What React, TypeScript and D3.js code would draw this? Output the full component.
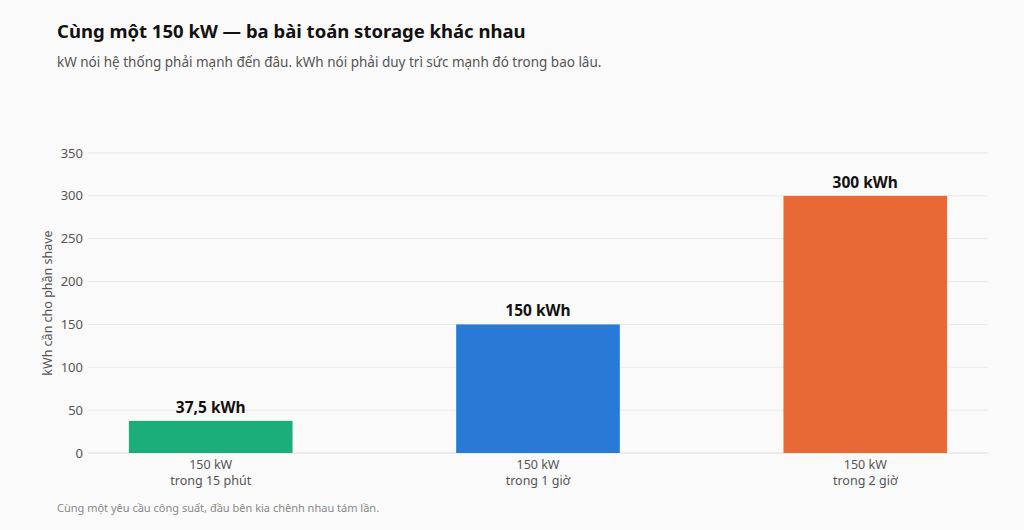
import React, { useRef, useEffect } from 'react';
import * as d3 from 'd3';

const categories = ['150 kW\ntrong 15 phút', '150 kW\ntrong 1 giờ', '150 kW\ntrong 2 giờ'];
const values = [37.5, 150, 300];
const valueLabels = ['37,5 kWh', '150 kWh', '300 kWh'];
const colors = ['#1bae7b', '#2979d6', '#e96936'];
const yTicks = [0, 50, 100, 150, 200, 250, 300, 350];

const FONT = '"Segoe UI", "Noto Sans", "Open Sans", sans-serif';

const App: React.FC = () => {
  const svgRef = useRef<SVGSVGElement>(null);

  useEffect(() => {
    if (!svgRef.current) return;
    const width = 1024,
      height = 530;
    const margin = { top: 153, right: 36, bottom: 77, left: 88 };

    const svg = d3.select(svgRef.current);
    svg.selectAll('*').remove();
    svg.attr('width', width).attr('height', height).style('font-family', FONT);

    svg.append('rect').attr('width', width).attr('height', height).attr('fill', '#fafafa');

    // titles
    svg
      .append('text')
      .attr('x', 57)
      .attr('y', 38)
      .attr('font-size', 18.5)
      .attr('font-weight', 700)
      .attr('fill', '#111')
      .text('Cùng một 150 kW — ba bài toán storage khác nhau');
    svg
      .append('text')
      .attr('x', 57)
      .attr('y', 67)
      .attr('font-size', 13.5)
      .attr('fill', '#555')
      .text('kW nói hệ thống phải mạnh đến đâu. kWh nói phải duy trì sức mạnh đó trong bao lâu.');

    const x = d3
      .scaleBand()
      .domain(categories)
      .range([margin.left, width - margin.right])
      .paddingInner(0.5)
      .paddingOuter(0.125);
    const y = d3
      .scaleLinear()
      .domain([0, 350])
      .range([height - margin.bottom, margin.top]);

    // grid
    svg
      .append('g')
      .selectAll('line')
      .data(yTicks)
      .enter()
      .append('line')
      .attr('x1', margin.left)
      .attr('x2', width - margin.right)
      .attr('y1', (d) => y(d))
      .attr('y2', (d) => y(d))
      .attr('stroke', (d) => (d === 0 ? '#dcdcdc' : '#e8e8e8'))
      .attr('stroke-width', 1);

    // y axis labels
    svg
      .append('g')
      .selectAll('text')
      .data(yTicks)
      .enter()
      .append('text')
      .attr('x', margin.left - 5)
      .attr('y', (d) => y(d))
      .attr('dy', '0.35em')
      .attr('text-anchor', 'end')
      .attr('font-size', 13)
      .attr('fill', '#555')
      .text((d) => d);

    svg
      .append('text')
      .attr('transform', `translate(52,${y(175)}) rotate(-90)`)
      .attr('text-anchor', 'middle')
      .attr('font-size', 12.5)
      .attr('fill', '#555')
      .text('kWh cần cho phần shave');

    // bars
    const data = categories.map((c, i) => ({ c, v: values[i], label: valueLabels[i], color: colors[i] }));
    svg
      .append('g')
      .selectAll('rect')
      .data(data)
      .enter()
      .append('rect')
      .attr('x', (d) => x(d.c)!)
      .attr('y', (d) => y(d.v))
      .attr('width', x.bandwidth())
      .attr('height', (d) => y(0) - y(d.v))
      .attr('fill', (d) => d.color);

    svg
      .append('g')
      .selectAll('text')
      .data(data)
      .enter()
      .append('text')
      .attr('x', (d) => x(d.c)! + x.bandwidth() / 2)
      .attr('y', (d) => y(d.v) - 8)
      .attr('text-anchor', 'middle')
      .attr('font-size', 15.5)
      .attr('font-weight', 700)
      .attr('fill', '#111')
      .text((d) => d.label);

    // x labels
    const xl = svg
      .append('g')
      .selectAll('text')
      .data(data)
      .enter()
      .append('text')
      .attr('x', (d) => x(d.c)! + x.bandwidth() / 2)
      .attr('y', y(0) + 16)
      .attr('text-anchor', 'middle')
      .attr('font-size', 12.5)
      .attr('fill', '#555');
    xl.each(function (d) {
      const lines = d.c.split('\n');
      d3.select(this)
        .selectAll('tspan')
        .data(lines)
        .enter()
        .append('tspan')
        .attr('x', x(d.c)! + x.bandwidth() / 2)
        .attr('dy', (_, i) => (i === 0 ? 0 : 16))
        .text((t) => t);
    });

    svg
      .append('text')
      .attr('x', 57)
      .attr('y', 512)
      .attr('font-size', 11)
      .attr('fill', '#888')
      .text('Cùng một yêu cầu công suất, đầu bên kia chênh nhau tám lần.');
  }, []);

  return (
    <svg
      ref={svgRef}
      style={{ position: 'absolute', top: 0, left: 0, display: 'block' }}
    />
  );
};

export default App;
